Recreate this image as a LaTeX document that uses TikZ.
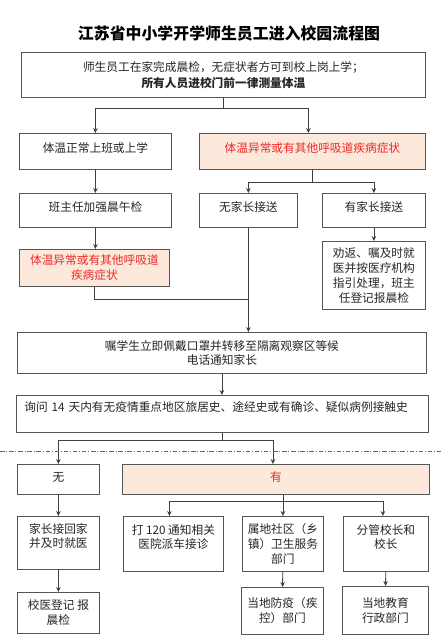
\documentclass[tikz,border=0pt]{standalone}
\usepackage{fontspec}
\setmainfont{Noto Sans CJK SC}
\setsansfont{Noto Sans CJK SC}
\usepackage{tikz}
\usetikzlibrary{positioning,arrows.meta,calc}
\definecolor{cline}{HTML}{404040}
\definecolor{cedge}{HTML}{555555}
\definecolor{cred}{HTML}{F02828}
\definecolor{credf}{HTML}{FDE8DC}
\definecolor{csep}{HTML}{F02A2A}
\tikzset{
  box/.style={draw=cedge,line width=.8pt,fill=white,align=center,anchor=north west,inner sep=1pt,
              font=\fontsize{11.7}{14.8}\selectfont,text=black!85},
  warn/.style={box,fill=credf,text=cred},
  raised/.style={text depth=8pt},
  ln/.style={draw=cline,line width=.8pt},
  fl/.style={ln,-{Stealth[length=5pt,width=4.6pt]}},
  sep/.style={draw=csep,line width=1.2pt,dash pattern=on 4.5pt off 1.8pt on 1pt off 1.8pt},
  ttl/.style={font=\fontsize{15.9}{18}\selectfont\bfseries}
}

\begin{document}
\begin{tikzpicture}[x=1pt,y=-1pt]
\useasboundingbox (0,0) rectangle (442,636);
\node[ttl] (ttl) at (229,33) {江苏省中小学开学师生员工进入校园流程图};
\node[box,minimum width=404pt,minimum height=45pt] (b1) at (21,52) {%
  师生员工在家完成晨检，无症状者方可到校上岗上学；\\[1.5pt]
  \textbf{所有人员进校门前一律测量体温}};
\node[box,raised,minimum width=152pt,minimum height=36pt] (b2) at (19,133) {体温正常上班或上学};
\node[warn,raised,minimum width=226pt,minimum height=36pt] (b3) at (199,133) {体温异常或有其他呼吸道疾病症状};
\node[box,raised,minimum width=152pt,minimum height=34pt] (b4) at (19,193) {班主任加强晨午检};
\node[box,raised,minimum width=98pt,minimum height=34pt] (b5) at (199,193) {无家长接送};
\node[box,raised,minimum width=103pt,minimum height=34pt] (b6) at (322,193) {有家长接送};
\node[warn,minimum width=150pt,minimum height=37pt] (b7) at (19,249) {体温异常或有其他呼吸道\\疾病症状};
\node[box,minimum width=103pt,minimum height=68pt] (b8) at (322,241) {劝返、嘱及时就\\医并按医疗机构\\指引处理，班主\\任登记报晨检};
\node[box,minimum width=409pt,minimum height=41pt] (b9) at (17,332) {嘱学生立即佩戴口罩并转移至隔离观察区等候\\电话通知家长};
\node[box,align=left,text width=396pt,inner xsep=8pt,minimum height=37pt] (b10) at (16,395) {%
  询问 14 天内有无疫情重点地区旅居史、途经史或有确诊、疑似病例接触史\\ \mbox{}};
\node[box,text depth=5pt,minimum width=82pt,minimum height=30pt] (b11) at (17,464) {无};
\node[warn,text depth=5pt,minimum width=307pt,minimum height=30pt] (b12) at (122,464) {有};
\node[box,minimum width=82pt,minimum height=53pt] (b13) at (17,516) {家长接回家\\并及时就医\\ \mbox{}};
\node[box,minimum width=100pt,minimum height=55pt] (b14) at (123,516) {打 120 通知相关\\医院派车接诊\\ \mbox{}};
\node[box,minimum width=81pt,minimum height=55pt] (b15) at (242,516) {属地社区（乡\\镇）卫生服务\\部门};
\node[box,minimum width=85pt,minimum height=55pt] (b16) at (343,516) {分管校长和\\校长\\ \mbox{}};
\node[box,minimum width=82pt,minimum height=41pt] (b17) at (17,592) {校医登记 报\\晨检};
\node[box,minimum width=82pt,minimum height=47pt] (b18) at (241,587) {当地防疫（疾\\控）部门};
\node[box,minimum width=86pt,minimum height=48pt] (b19) at (342,586) {当地教育\\行政部门};

% joints of the branching lines
\coordinate (j1) at (b1.south |- 0,108);
\coordinate (j2) at (b3.south |- 0,182);
\coordinate (j3) at (b5.south |- 0,299);
\coordinate (j4) at (b10.south |- 0,440);
\coordinate (j5) at (b15.north |- 0,501);

\draw[ln] (b1.south) -- (j1);
\draw[fl] (j1) -| (b2.north);
\draw[fl] (j1) -| ([xshift=-4pt]b3.north);
\draw[fl] (b2.south) -- (b2.south |- b4.north);
\draw[fl] (b4.south) -- (b4.south |- b7.north);
\draw[ln] (b3.south) -- (j2);
\draw[fl] (j2) -| (b5.north);
\draw[fl] (j2) -| (b6.north);
\draw[fl] (b6) -- (b8);
\draw[fl] (b5.south) -- (b5.south |- b9.north);
\draw[ln] (b7.south) |- (j3);
\draw[fl] (b9.south) -- (b9.south |- b10.north);
\draw[ln] (b10.south) -- (j4);
\draw[fl] (j4) -| (b11.north);
\draw[fl] (j4) -| ([xshift=-3pt]b12.north);
\draw[fl] (b11) -- (b13);
\draw[fl] (b13) -- (b17);
\draw[ln] (b15.north |- b12.south) -- (j5);
\draw[fl] (j5) -- (b15.north);
\draw[fl] (j5) -| ([xshift=-4pt]b14.north);
\draw[fl] (j5) -| ([xshift=-3pt]b16.north);
\draw[fl] (b15) -- (b18);
\draw[fl] (b16) -- (b19);

\draw[sep] (0,451.5) -- (442,451.5);
\end{tikzpicture}
\end{document}
